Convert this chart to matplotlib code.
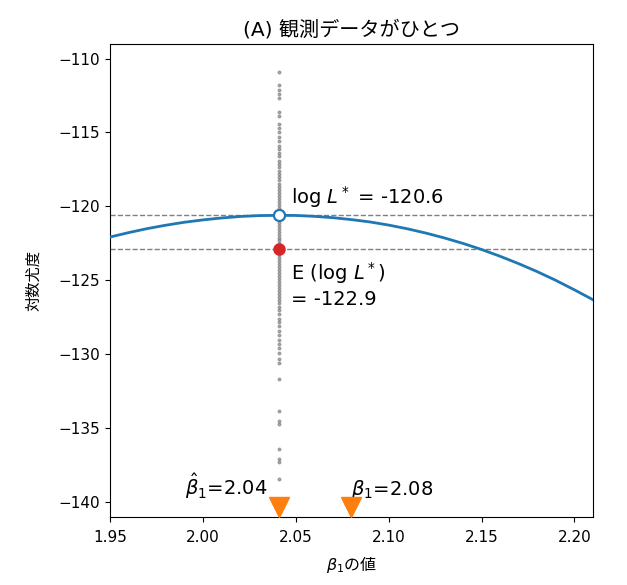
import numpy as np
import matplotlib
matplotlib.use('Agg')
import matplotlib.pyplot as plt

plt.rcParams['font.family'] = ['DejaVu Sans', 'Noto Sans CJK JP']
plt.rcParams['mathtext.fontset'] = 'dejavusans'

# log-likelihood curve
beta_grid = [1.95, 1.96, 1.97, 1.98, 1.99, 2.00, 2.01, 2.02, 2.03, 2.041,
             2.05, 2.06, 2.07, 2.08, 2.09, 2.10, 2.11, 2.12, 2.13, 2.14,
             2.15, 2.16, 2.17, 2.18, 2.19, 2.20, 2.21]
loglik = [-122.07, -121.77, -121.50, -121.27, -121.07, -120.91, -120.78, -120.68,
          -120.62, -120.60, -120.61, -120.67, -120.76, -120.89, -121.05, -121.26,
          -121.51, -121.80, -122.13, -122.50, -122.91, -123.37, -123.87, -124.41,
          -125.00, -125.64, -126.31]

# log L* of the other simulated data sets, evaluated at beta_hat
sim_loglik = [-110.9, -111.8, -112.1, -112.4, -112.7, -113.6, -113.9, -114.4, -114.7,
              -115.0, -115.3, -115.6, -115.9, -116.1, -116.4, -116.6, -116.9, -117.1,
              -117.3, -117.6, -117.8, -118.0, -118.2, -118.5, -118.7, -118.9, -119.1,
              -119.3, -119.5, -119.7, -119.9, -120.1, -120.3, -120.5, -120.7, -120.9,
              -121.1, -121.3, -121.5, -121.7, -121.9, -122.1, -122.3, -122.5, -122.7,
              -122.9, -123.1, -123.3, -123.5, -123.7, -123.9, -124.1, -124.3, -124.5,
              -124.7, -124.9, -125.1, -125.3, -125.5, -125.7, -125.9, -126.1, -126.3,
              -126.5, -126.8, -127.0, -127.3, -127.6, -127.8, -128.1, -128.4, -128.7,
              -129.0, -129.3, -129.6, -129.9, -130.3, -130.6, -131.7, -133.8, -134.5,
              -134.7, -136.4, -137.1, -137.3, -138.4]

beta_hat = 2.041
beta_true = 2.08
loglik_max = -120.6
loglik_mean = -122.9

fig = plt.figure(figsize=(6.27, 5.85), dpi=100)
ax = fig.add_axes([0.1754, 0.1162, 0.7704, 0.809])

ax.scatter([beta_hat] * len(sim_loglik), sim_loglik, s=3.5, color='gray', alpha=0.65, zorder=2)
ax.axhline(loglik_max, color='gray', ls='--', lw=1, zorder=1)
ax.axhline(loglik_mean, color='gray', ls='--', lw=1, zorder=1)
ax.plot(beta_grid, loglik, color='#1f77b4', lw=2, zorder=3)
ax.plot(beta_hat, loglik_max, 'o', ms=8, mfc='white', mec='#1f77b4', mew=1.6, zorder=4)
ax.plot(beta_hat, loglik_mean, 'o', ms=8, color='#d62728', zorder=4)

ax.plot(beta_hat, -140.3, 'v', ms=15, color='#ff7f0e', zorder=5)
ax.plot(beta_true, -140.3, 'v', ms=15, color='#ff7f0e', zorder=5)

ax.text(beta_hat + 0.0063, loglik_max + 0.75, 'log $L^*$ = %.1f' % loglik_max, fontsize=14)
ax.text(beta_hat + 0.0063, loglik_mean - 0.75, 'E (log $L^*$)\n= %.1f' % loglik_mean,
        fontsize=14, va='top', linespacing=1.25)
ax.text(beta_hat - 0.006, -139.5, r'$\hat{\beta}_1$=%.2f' % 2.04, fontsize=14, ha='right')
ax.text(beta_true, -139.5, r'$\beta_1$=%.2f' % beta_true, fontsize=14, ha='left')

ax.set_xlim(1.95, 2.21)
ax.set_ylim(-141, -109)
ax.set_xticks([1.95, 2.00, 2.05, 2.10, 2.15, 2.20])
ax.tick_params(labelsize=11)
ax.tick_params(axis='x', pad=5.5)
ax.set_title('(A) 観測データがひとつ', fontsize=14.5)
ax.set_xlabel(r'$\beta_1$の値', fontsize=11.5, family='Noto Sans CJK JP', labelpad=7)
ax.set_ylabel('対数尤度', fontsize=11, family='Noto Sans CJK JP', labelpad=12)

fig.savefig('out.png', dpi=100)
